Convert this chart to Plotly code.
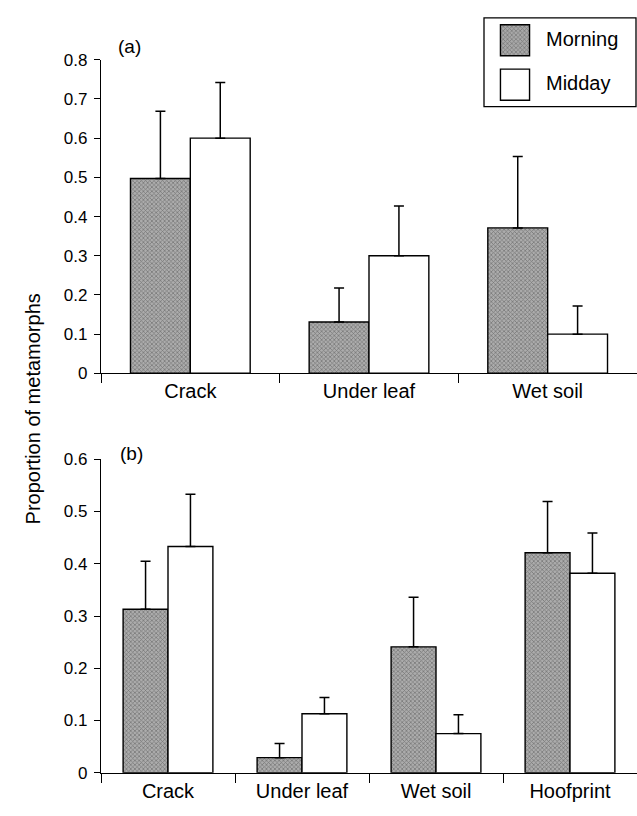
import plotly.graph_objects as go

# ---- data ----
series_names = ["Morning", "Midday"]

cats_a = ["Crack", "Under leaf", "Wet soil"]
morning_a = [0.497, 0.131, 0.371]
morning_a_err = [0.172, 0.087, 0.182]
midday_a = [0.600, 0.300, 0.100]
midday_a_err = [0.142, 0.127, 0.072]

cats_b = ["Crack", "Under leaf", "Wet soil", "Hoofprint"]
morning_b = [0.313, 0.029, 0.241, 0.421]
morning_b_err = [0.092, 0.027, 0.095, 0.098]
midday_b = [0.433, 0.113, 0.075, 0.382]
midday_b_err = [0.100, 0.031, 0.036, 0.077]

yticks_a = [0, 0.1, 0.2, 0.3, 0.4, 0.5, 0.6, 0.7, 0.8]
yticks_b = [0, 0.1, 0.2, 0.3, 0.4, 0.5, 0.6]

FONT = "Liberation Sans, Arial, Helvetica, sans-serif"
W, H = 637, 816

morning_marker = dict(color="#a8a8a8", line=dict(color="black", width=1.4),
                      pattern=dict(shape="x", size=3, solidity=0.4,
                                   fgcolor="#3a3a3a", bgcolor="#acacac"))
midday_marker = dict(color="white", line=dict(color="black", width=1.4))
err_style = dict(type="data", symmetric=False, thickness=1.5, width=5, color="black")


def bar(x, y, err, name, marker, xa, ya):
    return go.Bar(x=x, y=y, name=name, marker=marker,
                  error_y=dict(array=err, arrayminus=[0] * len(err), **err_style),
                  xaxis=xa, yaxis=ya, showlegend=False)


fig = go.Figure()
fig.add_trace(bar(cats_a, morning_a, morning_a_err, series_names[0], morning_marker, "x", "y"))
fig.add_trace(bar(cats_a, midday_a, midday_a_err, series_names[1], midday_marker, "x", "y"))
fig.add_trace(bar(cats_b, morning_b, morning_b_err, series_names[0], morning_marker, "x2", "y2"))
fig.add_trace(bar(cats_b, midday_b, midday_b_err, series_names[1], midday_marker, "x2", "y2"))

# legend swatches drawn as bars on a tiny hidden axis
fig.add_trace(go.Bar(orientation="h", y=series_names[::-1], x=[1, 1], base=[0, 0],
                     width=[0.7, 0.7], xaxis="x3", yaxis="y3", showlegend=False,
                     hoverinfo="skip",
                     marker=dict(color=["white", "#a8a8a8"],
                                 line=dict(color="black", width=1.4),
                                 pattern=dict(shape=["", "x"], size=3, solidity=0.4,
                                              fgcolor="#3a3a3a", bgcolor="#acacac"))))

xdom = [101 / W, 1.0]
common_x = dict(showline=True, linecolor="black", linewidth=1.3, ticks="outside",
                tickson="boundaries", ticklen=9, tickwidth=1, tickcolor="black",
                showgrid=False, zeroline=False, fixedrange=True,
                tickfont=dict(size=20, color="black", family=FONT))
common_y = dict(showline=True, linecolor="black", linewidth=1.3, ticks="outside",
                ticklen=6, tickwidth=1, tickcolor="black", showgrid=False,
                zeroline=False, fixedrange=True,
                tickfont=dict(size=17, color="black", family=FONT),
                ticklabelstandoff=3)

fig.update_layout(
    autosize=True,
    margin=dict(l=0, r=0, t=0, b=0),
    paper_bgcolor="white", plot_bgcolor="white",
    font=dict(family=FONT, color="black"),
    barmode="group", bargap=0.33, bargroupgap=0,
    xaxis=dict(domain=xdom, anchor="y", **common_x),
    yaxis=dict(domain=[1 - 373 / H, 1 - 52 / H], anchor="x", range=[0, 0.8],
               tickvals=yticks_a, **common_y),
    xaxis2=dict(domain=xdom, anchor="y2", **common_x),
    yaxis2=dict(domain=[1 - 782 / H, 1 - 461 / H], anchor="x2", range=[0, 0.6],
                tickvals=yticks_b, **common_y),
    xaxis3=dict(domain=[499 / W, 531 / W], anchor="y3", range=[-0.05, 1.05],
                visible=False, fixedrange=True),
    yaxis3=dict(domain=[1 - 100.25 / H, 1 - 9.25 / H], anchor="x3",
                range=[-0.5, 1.5], visible=False, fixedrange=True),
    showlegend=False,
)

# legend box and texts
fig.add_shape(type="rect", xref="paper", yref="paper",
              x0=484 / W, x1=636 / W, y0=1 - 100 / H, y1=1 - 9 / H,
              line=dict(color="black", width=1.3), fillcolor="rgba(0,0,0,0)")
fig.add_annotation(text=series_names[0], xref="paper", yref="paper",
                   x=544 / W, y=1 - 31 / H, xanchor="left", yanchor="middle",
                   showarrow=False, font=dict(size=20, family=FONT, color="black"))
fig.add_annotation(text=series_names[1], xref="paper", yref="paper",
                   x=544 / W, y=1 - 76 / H, xanchor="left", yanchor="middle",
                   showarrow=False, font=dict(size=20, family=FONT, color="black"))

# panel labels
fig.add_annotation(text="(a)", xref="paper", yref="paper", x=116 / W, y=1 - 38 / H,
                   xanchor="left", yanchor="middle", showarrow=False,
                   font=dict(size=19, family=FONT, color="black"))
fig.add_annotation(text="(b)", xref="paper", yref="paper", x=118 / W, y=1 - 455 / H,
                   xanchor="left", yanchor="middle", showarrow=False,
                   font=dict(size=19, family=FONT, color="black"))

# shared y title
fig.add_annotation(text="Proportion of metamorphs", xref="paper", yref="paper",
                   x=33 / W, y=1 - 410 / H, textangle=-90, xanchor="center",
                   yanchor="middle", showarrow=False,
                   font=dict(size=20, family=FONT, color="black"))

post = ("document.documentElement.style.height='100%';"
        "document.documentElement.style.margin='0';"
        "document.body.style.height='100%';"
        "document.body.style.margin='0';"
        "document.body.style.overflow='hidden';"
        "var gd=document.getElementById('{plot_id}');"
        "if(gd.parentElement){gd.parentElement.style.height='100%';gd.parentElement.style.width='100%';}"
        "gd.style.height='100%';gd.style.width='100%';"
        "Plotly.Plots.resize(gd);")

fig.write_html("out.html", default_width="100%", default_height="100%",
               config={"displayModeBar": False, "responsive": True},
               post_script=post)
